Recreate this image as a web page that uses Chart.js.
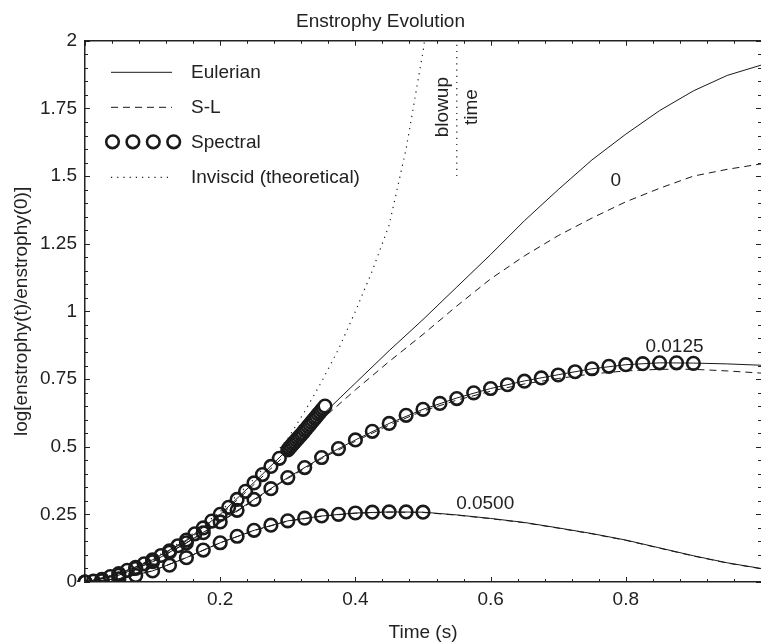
<!DOCTYPE html>
<html>
<head>
<meta charset="utf-8">
<script src="https://cdn.jsdelivr.net/npm/chart.js@4.4.1/dist/chart.umd.min.js"></script>
<style>
  html, body { margin: 0; padding: 0; background: #fff; }
</style>
</head>
<body>
<canvas id="chart" width="761" height="644"></canvas>
<script>
// time grid used by the Eulerian / S-L runs
const tLine = [0, 0.05, 0.1, 0.15, 0.2, 0.25, 0.3, 0.35, 0.4, 0.45, 0.5,
               0.55, 0.6, 0.65, 0.7, 0.75, 0.8, 0.85, 0.9, 0.95, 1.0];

// viscosity 0
const eulerian0 = [0, 0.03, 0.082, 0.155, 0.25, 0.368, 0.49, 0.615, 0.735, 0.855, 0.97,
                   1.09, 1.21, 1.335, 1.45, 1.56, 1.655, 1.742, 1.815, 1.872, 1.91];
const sl0 = [0, 0.029, 0.08, 0.152, 0.245, 0.36, 0.478, 0.6, 0.71, 0.815, 0.915,
             1.02, 1.12, 1.205, 1.28, 1.345, 1.405, 1.455, 1.5, 1.525, 1.545];
// viscosity 0.0125
const eulerian1 = [0, 0.025, 0.075, 0.145, 0.222, 0.305, 0.386, 0.46, 0.525, 0.586, 0.638,
                   0.68, 0.715, 0.743, 0.766, 0.788, 0.803, 0.81, 0.809, 0.806, 0.801];
const sl1 = [0, 0.025, 0.074, 0.144, 0.22, 0.302, 0.383, 0.456, 0.52, 0.58, 0.632,
             0.672, 0.705, 0.732, 0.752, 0.769, 0.78, 0.786, 0.786, 0.78, 0.772];
// viscosity 0.05
const eulerian2 = [0, 0.012, 0.041, 0.09, 0.145, 0.191, 0.226, 0.244, 0.255, 0.259, 0.258,
                   0.248, 0.235, 0.22, 0.2, 0.179, 0.155, 0.126, 0.097, 0.071, 0.05];
const sl2 = [0, 0.012, 0.041, 0.09, 0.145, 0.19, 0.225, 0.243, 0.254, 0.258, 0.257,
             0.247, 0.234, 0.219, 0.199, 0.178, 0.154, 0.125, 0.096, 0.07, 0.049];

// spectral runs (the nu=0 run takes small steps as it nears blowup)
const tSpec0 = [0, 0.0125, 0.025, 0.0375, 0.05, 0.0625, 0.075, 0.0875, 0.1, 0.1125, 0.125,
                0.1375, 0.15, 0.1625, 0.175, 0.1875, 0.2, 0.2125, 0.225, 0.2375, 0.25,
                0.2625, 0.275, 0.2875, 0.3, 0.3025, 0.305, 0.3075, 0.31, 0.3125, 0.315,
                0.3175, 0.32, 0.3225, 0.325, 0.3275, 0.33, 0.3325, 0.335, 0.3375, 0.34,
                0.3425, 0.345, 0.3475, 0.35, 0.3525, 0.355];
const spectral0 = [0, 0.003, 0.01, 0.02, 0.031, 0.043, 0.054, 0.067, 0.082, 0.098, 0.115,
                   0.134, 0.155, 0.178, 0.2, 0.225, 0.25, 0.276, 0.305, 0.335, 0.366,
                   0.397, 0.427, 0.457, 0.488, 0.496, 0.503, 0.51, 0.517, 0.524, 0.531,
                   0.538, 0.545, 0.552, 0.56, 0.567, 0.575, 0.582, 0.59, 0.597, 0.605,
                   0.612, 0.62, 0.627, 0.635, 0.642, 0.65];
const tSpec1 = [0, 0.025, 0.05, 0.075, 0.1, 0.125, 0.15, 0.175, 0.2, 0.225, 0.25, 0.275,
                0.3, 0.325, 0.35, 0.375, 0.4, 0.425, 0.45, 0.475, 0.5, 0.525, 0.55,
                0.575, 0.6, 0.625, 0.65, 0.675, 0.7, 0.725, 0.75, 0.775, 0.8, 0.825,
                0.85, 0.875, 0.9];
const spectral1 = [0, 0.008, 0.025, 0.05, 0.075, 0.11, 0.145, 0.182, 0.222, 0.265, 0.305, 0.345,
                   0.386, 0.423, 0.46, 0.493, 0.525, 0.557, 0.586, 0.616, 0.638, 0.66, 0.678,
                   0.699, 0.715, 0.729, 0.742, 0.754, 0.765, 0.777, 0.788, 0.797, 0.803, 0.807,
                   0.81, 0.81, 0.808];
const tSpec2 = [0, 0.025, 0.05, 0.075, 0.1, 0.125, 0.15, 0.175, 0.2, 0.225, 0.25, 0.275,
                0.3, 0.325, 0.35, 0.375, 0.4, 0.425, 0.45, 0.475, 0.5];
const spectral2 = [0, 0.005, 0.012, 0.024, 0.041, 0.062, 0.09, 0.118, 0.145, 0.169, 0.191, 0.21,
                   0.226, 0.236, 0.244, 0.25, 0.255, 0.258, 0.259, 0.259, 0.258];

// inviscid theory, blows up
const tInviscid = [0, 0.05, 0.1, 0.15, 0.2, 0.25, 0.3, 0.325, 0.35, 0.375, 0.4, 0.425,
                   0.45, 0.475, 0.5, 0.505];
const inviscid = [0, 0.03, 0.085, 0.16, 0.26, 0.38, 0.53, 0.63, 0.74, 0.86, 1.0, 1.15,
                  1.32, 1.6, 1.96, 2.05];
const blowupTime = 0.55;
const blowupSpan = [1.5, 2];

const legendLabels = ['Eulerian', 'S-L', 'Spectral', 'Inviscid (theoretical)'];
const curveLabels = [
  { text: '0', x: 0.785, y: 1.482 },
  { text: '0.0125', x: 0.872, y: 0.868 },
  { text: '0.0500', x: 0.592, y: 0.29 }
];

const INK = '#1a1a1a';
const FONT = '"Liberation Sans", Arial, Helvetica, sans-serif';
Chart.defaults.font.family = FONT;
Chart.defaults.font.size = 19;
Chart.defaults.color = '#222';

const pts = (xs, ys) => xs.map((x, i) => ({ x: x, y: ys[i] }));

function lineSet(xs, ys, dash, width) {
  return {
    data: pts(xs, ys),
    showLine: true,
    borderColor: INK,
    borderWidth: width || 1,
    borderDash: dash || [],
    pointRadius: 0,
    fill: false
  };
}

function spectralSet(xs, ys, fills) {
  return {
    data: pts(xs, ys),
    showLine: false,
    pointStyle: 'circle',
    pointRadius: 6.3,
    pointBorderWidth: 2.6,
    pointBorderColor: INK,
    pointBackgroundColor: fills || 'rgba(0,0,0,0)',
    clip: { left: 10, right: 0, top: 0, bottom: 0 }
  };
}

const DASH = [7, 5];
const DOT = [1.2, 5];

// dense points near blowup draw as a filled "sausage"
const spec0Fill = tSpec0.map(t => t > 0.3 ? '#fff' : 'rgba(0,0,0,0)');

const datasets = [
  lineSet(tLine, eulerian0),
  lineSet(tLine, sl0, DASH),
  lineSet(tLine, eulerian1),
  lineSet(tLine, sl1, DASH),
  lineSet(tLine, eulerian2),
  lineSet(tLine, sl2, DASH),
  lineSet(tInviscid, inviscid, DOT, 1.2),
  lineSet([blowupTime, blowupTime], blowupSpan, DOT, 1.2),
  spectralSet(tSpec0, spectral0, spec0Fill),
  spectralSet(tSpec1, spectral1),
  spectralSet(tSpec2, spectral2)
];

// inward ticks, top frame, legend and curve labels
const decorations = {
  id: 'decorations',
  afterDatasetsDraw(chart) {
    const { ctx, chartArea: a, scales: { x, y } } = chart;
    ctx.save();
    ctx.strokeStyle = '#222';

    ctx.lineWidth = 1.5;
    ctx.beginPath();
    ctx.moveTo(a.left, a.top);
    ctx.lineTo(a.right, a.top);
    ctx.stroke();

    ctx.lineWidth = 1;
    ctx.beginPath();
    for (let i = 0; i <= 25; i++) {
      const px = Math.round(x.getPixelForValue(i * 0.04)) + 0.5;
      const len = i % 5 === 0 ? 5 : 3;
      ctx.moveTo(px, a.bottom); ctx.lineTo(px, a.bottom - len);
      ctx.moveTo(px, a.top); ctx.lineTo(px, a.top + len);
    }
    for (let i = 0; i <= 40; i++) {
      const py = Math.round(y.getPixelForValue(i * 0.05)) + 0.5;
      const len = i % 5 === 0 ? 5 : 3;
      ctx.moveTo(a.left, py); ctx.lineTo(a.left + len, py);
      ctx.moveTo(a.right, py); ctx.lineTo(a.right - len, py);
    }
    ctx.stroke();

    // legend
    ctx.strokeStyle = INK;
    ctx.fillStyle = '#222';
    ctx.font = '19px ' + FONT;
    ctx.textBaseline = 'middle';
    ctx.textAlign = 'left';
    const x0 = a.left + 26, x1 = a.left + 87, tx = a.left + 106;
    legendLabels.forEach((label, i) => {
      const ly = a.top + 31 + i * 35;
      ctx.save();
      if (i === 2) {
        ctx.lineWidth = 2.6;
        for (let k = 0; k < 4; k++) {
          ctx.beginPath();
          ctx.arc(x0 + 1.5 + k * 20.4, ly, 6.3, 0, Math.PI * 2);
          ctx.stroke();
        }
      } else {
        ctx.lineWidth = i === 3 ? 1.2 : 1;
        ctx.setLineDash(i === 1 ? DASH : i === 3 ? DOT : []);
        ctx.beginPath();
        ctx.moveTo(x0, ly + 0.5);
        ctx.lineTo(x1, ly + 0.5);
        ctx.stroke();
      }
      ctx.restore();
      ctx.fillText(label, tx, ly + 1);
    });

    // viscosity labels
    ctx.textAlign = 'center';
    curveLabels.forEach(l => {
      ctx.fillText(l.text, x.getPixelForValue(l.x), y.getPixelForValue(l.y));
    });

    // "blowup time" written vertically beside the dotted line
    const bx = x.getPixelForValue(blowupTime);
    const by = y.getPixelForValue(1.755);
    [['blowup', -14], ['time', 15]].forEach(([s, dx]) => {
      ctx.save();
      ctx.translate(bx + dx, by);
      ctx.rotate(-Math.PI / 2);
      ctx.fillText(s, 0, 0);
      ctx.restore();
    });
    ctx.restore();
  }
};

new Chart(document.getElementById('chart'), {
  type: 'scatter',
  data: { datasets: datasets },
  options: {
    responsive: false,
    animation: false,
    events: [],
    layout: { autoPadding: false, padding: 0 },
    plugins: {
      legend: { display: false },
      tooltip: { enabled: false },
      title: {
        display: true,
        text: 'Enstrophy Evolution',
        font: { size: 19, weight: 'normal' },
        color: '#222',
        padding: { top: 10, bottom: 8 }
      }
    },
    scales: {
      x: {
        type: 'linear',
        min: 0,
        max: 1,
        afterFit: s => { s.height = 62; s.paddingLeft = 0; s.paddingRight = 0; },
        grid: { display: false, drawTicks: false },
        border: { display: true, color: '#222', width: 1.5 },
        ticks: {
          stepSize: 0.2,
          padding: 6,
          maxRotation: 0,
          callback: v => (v > 0.01 && v < 0.99) ? (Math.round(v * 10) / 10).toString() : null
        },
        title: { display: true, text: 'Time (s)', padding: { top: 0, bottom: 0 } }
      },
      y: {
        type: 'linear',
        min: 0,
        max: 2,
        afterFit: s => { s.width = 85; s.paddingTop = 0; s.paddingBottom = 0; },
        grid: { display: false, drawTicks: false },
        border: { display: true, color: '#222', width: 1.5 },
        ticks: {
          stepSize: 0.25,
          padding: 8,
          callback: v => (Math.round(v * 100) / 100).toString()
        },
        title: {
          display: true,
          text: 'log[enstrophy(t)/enstrophy(0)]',
          padding: { top: 10, bottom: 0 }
        }
      }
    }
  },
  plugins: [decorations]
});
</script>
</body>
</html>
